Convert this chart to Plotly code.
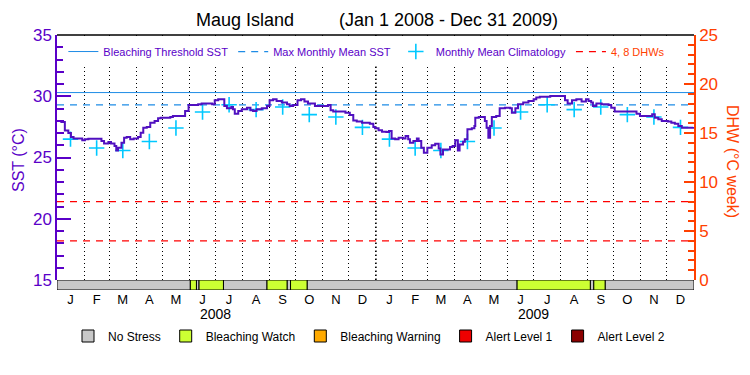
import datetime as dt
import plotly.graph_objects as go

# ---------------- data ----------------
month_letters = ["J", "F", "M", "A", "M", "J", "J", "A", "S", "O", "N", "D"]
years = [2008, 2009]

bleaching_threshold = 30.3
max_monthly_mean = 29.3
dhw_levels = [4, 8]

clim_values = [26.5, 25.77, 25.57, 26.31, 27.41, 28.72, 29.3, 28.91, 29.12, 28.5, 28.31, 27.46]

# days since 2008-01-01 and daily SST
sst_day = [0, 5, 9, 13, 16, 19, 26, 29, 32, 36, 47, 51, 54, 59, 62, 66, 68, 70, 74, 77, 80, 84, 88, 93, 96, 99,
           103, 107, 112, 116, 119, 130, 133, 143, 147, 151, 162, 166, 178,
           181, 185, 190, 192, 195, 200, 202, 204, 208, 212, 218, 222, 225, 229, 235, 241, 244, 248, 252, 258,
           264, 267, 271, 276, 280, 284, 288, 296, 308, 311, 314, 317, 325, 331, 336, 340, 344, 350, 359, 363,
           365, 369, 373, 378, 381, 384, 388, 392, 397, 400, 403, 405, 409, 413, 415, 418, 421, 425, 430, 434,
           438, 440, 443, 451, 454, 457, 460, 462, 466, 468, 471, 476, 479, 480, 484, 489, 491, 493, 495, 497,
           499, 504, 508, 514, 520, 522, 526, 529, 535, 541, 547,
           550, 554, 566, 579, 583, 586, 591, 596, 602, 607, 610, 613, 615, 619, 625, 633, 636, 640, 648, 661,
           665, 669, 680, 683, 686, 690, 694, 701, 705, 709, 713, 717, 728, 730]
sst_value = [27.98, 27.9, 27.2, 27.0, 26.67, 26.56, 26.56, 26.4, 26.48, 26.53, 26.53, 26.34, 26.15, 26.26, 26.15,
             25.93, 25.58, 25.8, 26.2, 26.61, 26.67, 26.48, 26.56, 26.67, 27.02, 27.43,
             27.49, 27.84, 27.98, 28.2, 28.25, 28.31, 28.39, 28.39, 28.8, 29.29, 29.35, 29.4, 29.35,
             29.67, 29.76, 29.76, 29.21, 29.02, 29.13, 28.94, 28.58, 28.8, 28.94, 29.07, 28.86, 28.8, 28.94,
             29.02, 29.21, 29.67, 29.76, 29.62, 29.48,
             29.35, 29.21, 29.29, 29.67, 29.76, 29.57, 29.4, 29.21, 29.21, 29.29, 28.86, 28.75, 28.75, 28.66,
             28.47, 28.03, 27.93, 27.84, 27.76, 27.49,
             27.38, 27.22, 27.11, 27.08, 27.16, 26.56, 26.48, 26.61, 26.56, 26.75, 26.48, 26.2, 26.34, 26.56,
             26.34, 25.8, 25.39, 25.8, 26.01, 26.12,
             25.74, 25.25, 25.66, 25.85, 25.93, 26.4, 25.58, 26.07, 26.29, 26.48, 27.3, 27.38, 27.57, 28.25,
             28.31, 28.31, 27.98, 27.43, 26.61, 27.57,
             28.31, 28.39, 29.02, 29.07, 29.02, 28.66, 29.02, 29.35, 29.48, 29.62, 29.76,
             29.89, 29.95, 30.03, 30.03, 29.67, 29.4, 29.67, 29.76, 29.57, 29.76, 29.62, 29.48, 29.21, 29.4,
             29.35, 29.29, 29.07, 28.75, 28.75, 28.75,
             28.58, 28.39, 28.39, 28.53, 28.25, 28.12, 27.98, 27.93, 27.84, 27.76, 27.57, 27.43, 27.43, 27.49]

# stress periods: start day, end day, level index
stress_start = [0, 153, 160, 163, 191, 241, 264, 268, 287, 528, 612, 616, 629]
stress_end = [153, 160, 163, 191, 241, 264, 268, 287, 528, 612, 616, 629, 731]
stress_level = [0, 1, 0, 1, 0, 1, 0, 1, 0, 1, 0, 1, 0]
stress_names = ["No Stress", "Bleaching Watch", "Bleaching Warning", "Alert Level 1", "Alert Level 2"]
stress_colors = ["#c8c8c8", "#ccff33", "#ffaa00", "#ee0000", "#8b0000"]

# ---------------- styles ----------------
FONT = "Liberation Sans"
PURPLE = "#5a00c8"
LINE_PURPLE = "#5010c0"
BLUE = "#1e8ce6"
CYAN = "#00c8ff"
RED = "#ff0000"
ORANGE = "#ff4000"

# page body has an 8px margin; figure sized to fit the 750x375 window
W, H = 734, 359
OFF = 8

origin = dt.date(2008, 1, 1)
month_starts = [(dt.date(y, m, 1) - origin).days for y in years for m in range(1, 13)]
end_day = (dt.date(years[-1] + 1, 1, 1) - origin).days
bounds = month_starts + [end_day]
month_mid = [(a + b) / 2 for a, b in zip(bounds[:-1], bounds[1:])]
year_mid = [(dt.date(y, 7, 1) - origin).days for y in years]

fig = go.Figure()

# threshold / MMM lines
fig.add_trace(go.Scatter(x=[0, end_day], y=[bleaching_threshold] * 2, mode="lines",
                         line=dict(color=BLUE, width=1), name="Bleaching Threshold SST",
                         legend="legend"))
fig.add_trace(go.Scatter(x=[0, end_day], y=[max_monthly_mean] * 2, mode="lines",
                         line=dict(color=BLUE, width=1.3, dash="7px,6px"), name="Max Monthly Mean SST",
                         legend="legend"))
# climatology
fig.add_trace(go.Scatter(x=month_mid, y=clim_values * len(years), mode="markers",
                         marker=dict(symbol="cross-thin", size=11, line=dict(color=CYAN, width=1.6)),
                         name="Monthly Mean Climatology", legend="legend"))
# DHW lines
dx, dy = [], []
for lv in dhw_levels:
    dx += [0, end_day, None]
    dy += [lv, lv, None]
fig.add_trace(go.Scatter(x=dx, y=dy, mode="lines", yaxis="y2",
                         line=dict(color=RED, width=1.3, dash="7px,6px"),
                         name='<span style="color:%s">4, 8 DHWs</span>' % ORANGE, legend="legend"))
# SST
fig.add_trace(go.Scatter(x=sst_day, y=sst_value, mode="lines", line=dict(color=LINE_PURPLE, width=2, shape="hv"),
                         showlegend=False))

# stress bar
for li, (nm, col) in enumerate(zip(stress_names, stress_colors)):
    idx = [i for i, l in enumerate(stress_level) if l == li]
    xs = [stress_end[i] - stress_start[i] for i in idx]
    bs = [stress_start[i] for i in idx]
    if not idx:
        xs, bs = [None], [None]
    fig.add_trace(go.Bar(x=xs, base=bs, y=[0.5] * len(xs), orientation="h", width=1,
                         marker=dict(color=col, line=dict(color="black", width=1)),
                         name=nm, yaxis="y3", legend="legend2", hoverinfo="skip"))

# target screen positions of plot area: x 57..694, y 35..290
L, R, T, B = 57, 694, 35, 290
PH = B - T

fig.update_layout(
    width=W, height=H,
    margin=dict(l=L - OFF, r=W + OFF - R, t=T - OFF, b=H + OFF - B, autoexpand=False),
    paper_bgcolor="white", plot_bgcolor="white",
    font=dict(family=FONT, size=12, color="black"),
    barmode="overlay",
    title=dict(text="Maug Island" + "\u00a0" * 9 + "(Jan 1 2008 - Dec 31 2009)",
               x=(377 - OFF) / W, xanchor="center", y=1 - (20 - OFF) / H, yanchor="middle",
               font=dict(size=18, color="black", family=FONT)),
    xaxis=dict(range=[0, end_day], anchor="y3", tickmode="array", tickvals=month_mid, ticktext=month_letters * len(years),
               showgrid=False, zeroline=False, showline=False, ticks="", automargin=False,
               tickfont=dict(size=13, color="black"),
               minor=dict(tickmode="array", tickvals=month_starts[1:], showgrid=True, griddash="1px,3px",
                          gridcolor="black", gridwidth=1, ticks="")),
    yaxis=dict(domain=[10 / PH, 1], range=[15, 35], tickvals=[15, 20, 25, 30, 35], showgrid=False, zeroline=False,
               showline=True, linecolor=PURPLE, linewidth=1.5, ticks="inside", ticklen=14, tickwidth=1.5,
               tickcolor=PURPLE, tickfont=dict(size=17, color=PURPLE), automargin=False,
               minor=dict(dtick=1, ticks="inside", ticklen=7, tickwidth=1.5, tickcolor=PURPLE, showgrid=False)),
    yaxis2=dict(overlaying="y", side="right", anchor="x", range=[0, 25], tickvals=[0, 5, 10, 15, 20, 25],
                showgrid=False, zeroline=False, showline=True, linecolor=ORANGE, linewidth=1.5, automargin=False,
                ticks="inside", ticklen=10, tickwidth=1.5, tickcolor=ORANGE, tickfont=dict(size=17, color=ORANGE),
                minor=dict(dtick=1, ticks="inside", ticklen=6, tickwidth=1.5, tickcolor=ORANGE, showgrid=False)),
    yaxis3=dict(domain=[0, 10 / PH], range=[0, 1], showgrid=False, zeroline=False, showline=False,
                showticklabels=False, ticks="", fixedrange=True, automargin=False),
    legend=dict(x=0.01, y=0.992, xanchor="left", yanchor="top", orientation="h", bgcolor="white",
                font=dict(size=11, color=PURPLE, family=FONT), itemwidth=30, tracegroupgap=0),
    legend2=dict(x=(369 - OFF) / W, xref="container", y=1 - (336 - OFF) / H, yref="container",
                 xanchor="center", yanchor="middle", orientation="h", bgcolor="rgba(0,0,0,0)",
                 font=dict(size=12, color="black", family=FONT), itemwidth=30),
    showlegend=True,
)

# top frame line and year-boundary line
fig.add_shape(type="line", xref="paper", yref="paper", x0=0, x1=1, y0=1, y1=1, line=dict(color="black", width=1.5))
fig.add_shape(type="line", xref="x", yref="paper", x0=month_starts[12], x1=month_starts[12], y0=10 / PH, y1=1,
              line=dict(color="black", width=1.5, dash="1.5px,2.5px"), layer="below")

# axis titles and year labels
fig.add_annotation(text="SST (°C)", xref="paper", yref="paper", x=(18 - L) / (R - L), y=(B - 160) / PH,
                   xanchor="center", yanchor="middle",
                   textangle=-90, showarrow=False, font=dict(size=16, color=PURPLE))
fig.add_annotation(text="DHW (°C week)", xref="paper", yref="paper", x=(733 - L) / (R - L), y=(B - 161) / PH,
                   xanchor="center", yanchor="middle",
                   textangle=90, showarrow=False, font=dict(size=16, color=ORANGE))
for yr, xm in zip(years, year_mid):
    fig.add_annotation(text=str(yr), xref="x", yref="paper", x=xm, y=(B - 314) / PH, showarrow=False,
                       xanchor="center", yanchor="middle", font=dict(size=14, color="black"))

fig.write_html("out.html")
